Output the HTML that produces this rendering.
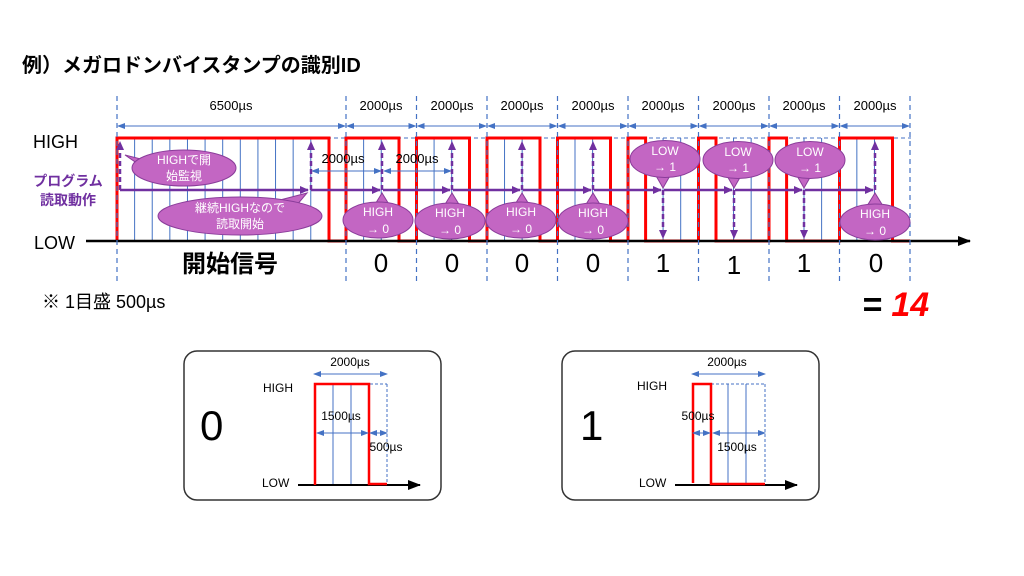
<!DOCTYPE html>
<html><head><meta charset="utf-8"><style>
body{margin:0;background:#fff}
svg{display:block;font-family:"Liberation Sans","Noto Sans CJK JP",sans-serif}
</style></head><body>
<svg id="s" width="1024" height="576" viewBox="0 0 1024 576" xmlns="http://www.w3.org/2000/svg">
<defs>
<marker id="ab" markerWidth="8" markerHeight="8" refX="7" refY="4" orient="auto-start-reverse" markerUnits="userSpaceOnUse"><path d="M0,1 L8,4 L0,7z" fill="#4472c4"/></marker>
<marker id="ap" markerWidth="10" markerHeight="10" refX="8" refY="5" orient="auto-start-reverse" markerUnits="userSpaceOnUse"><path d="M0,1 L9,5 L0,9z" fill="#7030a0"/></marker>
<marker id="ak" markerWidth="14" markerHeight="12" refX="12" refY="6" orient="auto" markerUnits="userSpaceOnUse"><path d="M0,1 L13,6 L0,11z" fill="#000"/></marker>
</defs>
<text x="22" y="72" font-size="20" font-weight="bold" fill="#000">例）メガロドンバイスタンプの識別ID</text>
<g id="grid"></g>
<line x1="117" y1="138" x2="911" y2="138" stroke="#4472c4" stroke-width="1" stroke-dasharray="4,3"/>
<path d="M117,241 V138 H329 V241 H346 V138 H399 V241 H416.5 V138 H469.5 V241 H487 V138 H540 V241 H557.5 V138 H610.5 V241 H628 V138 H645.6 V241 H698.5 V138 H716 V241 H769 V138 H786.6 V241 H839.5 V138 H892.5 V241 H910" fill="none" stroke="#ff0000" stroke-width="3"/>
<line x1="86" y1="241" x2="970" y2="241" stroke="#000" stroke-width="2.5" marker-end="url(#ak)"/>
<g id="dims"></g>
<g font-size="13" fill="#000" text-anchor="middle">
<text x="231" y="110">6500µs</text>
<text x="381" y="110">2000µs</text><text x="452" y="110">2000µs</text><text x="522" y="110">2000µs</text><text x="593" y="110">2000µs</text>
<text x="663" y="110">2000µs</text><text x="734" y="110">2000µs</text><text x="804" y="110">2000µs</text><text x="875" y="110">2000µs</text>
<text x="343" y="163">2000µs</text><text x="417" y="163">2000µs</text>
</g>
<line x1="312" y1="171" x2="381" y2="171" stroke="#4472c4" marker-start="url(#ab)" marker-end="url(#ab)"/>
<line x1="384" y1="171" x2="451" y2="171" stroke="#4472c4" marker-start="url(#ab)" marker-end="url(#ab)"/>
<g stroke="#7030a0" stroke-width="2.5" fill="none">
<line x1="120" y1="190" x2="308" y2="190" marker-end="url(#ap)"/>
<line x1="311" y1="190" x2="380" y2="190" marker-end="url(#ap)"/>
<line x1="383" y1="190" x2="450" y2="190" marker-end="url(#ap)"/>
<line x1="453" y1="190" x2="520" y2="190" marker-end="url(#ap)"/>
<line x1="523" y1="190" x2="591" y2="190" marker-end="url(#ap)"/>
<line x1="594" y1="190" x2="661" y2="190" marker-end="url(#ap)"/>
<line x1="664" y1="190" x2="732" y2="190" marker-end="url(#ap)"/>
<line x1="735" y1="190" x2="802" y2="190" marker-end="url(#ap)"/>
<line x1="805" y1="190" x2="873" y2="190" marker-end="url(#ap)"/>
<g stroke-dasharray="5,3">
<line x1="120" y1="190" x2="120" y2="142" marker-end="url(#ap)"/>
<line x1="311" y1="190" x2="311" y2="142" marker-end="url(#ap)"/>
<line x1="382" y1="190" x2="382" y2="142" marker-end="url(#ap)"/>
<line x1="452" y1="190" x2="452" y2="142" marker-end="url(#ap)"/>
<line x1="522" y1="190" x2="522" y2="142" marker-end="url(#ap)"/>
<line x1="593" y1="190" x2="593" y2="142" marker-end="url(#ap)"/>
<line x1="663" y1="190" x2="663" y2="238" marker-end="url(#ap)"/>
<line x1="734" y1="190" x2="734" y2="238" marker-end="url(#ap)"/>
<line x1="804" y1="190" x2="804" y2="238" marker-end="url(#ap)"/>
<line x1="875" y1="190" x2="875" y2="142" marker-end="url(#ap)"/>
</g>
</g>
<g fill="#c366c3" stroke="#8a3c9a" stroke-width="1">
<polygon points="125,155 145,160 150,172"/>
<ellipse cx="184" cy="168" rx="52" ry="18"/>
<polygon points="307,193 280,200 296,206"/>
<ellipse cx="240" cy="216" rx="82" ry="19"/>
<polygon points="382,193 374,206 390,206"/><ellipse cx="378" cy="220" rx="35" ry="18"/>
<polygon points="452,193 444,206 460,206"/><ellipse cx="450" cy="221" rx="35" ry="18"/>
<polygon points="522,193 514,206 530,206"/><ellipse cx="521" cy="220" rx="35" ry="18"/>
<polygon points="593,193 585,206 601,206"/><ellipse cx="593" cy="221" rx="35" ry="18"/>
<polygon points="875,193 867,206 883,206"/><ellipse cx="875" cy="222" rx="35" ry="18"/>
<polygon points="663,188 655,174 671,174"/><ellipse cx="665" cy="159" rx="35" ry="18.5"/>
<polygon points="734,188 726,174 742,174"/><ellipse cx="738" cy="160" rx="35" ry="18.5"/>
<polygon points="804,188 796,174 812,174"/><ellipse cx="810" cy="160" rx="35" ry="18.5"/>
</g>
<g fill="#fff" font-size="12" text-anchor="middle">
<text x="184" y="164">HIGHで開</text><text x="184" y="180">始監視</text>
<text x="240" y="212">継続HIGHなので</text><text x="240" y="228">読取開始</text>
<text x="378" y="216">HIGH</text><text x="378" y="233">→ 0</text>
<text x="450" y="217">HIGH</text><text x="450" y="234">→ 0</text>
<text x="521" y="216">HIGH</text><text x="521" y="233">→ 0</text>
<text x="593" y="217">HIGH</text><text x="593" y="234">→ 0</text>
<text x="875" y="218">HIGH</text><text x="875" y="235">→ 0</text>
<text x="665" y="155">LOW</text><text x="665" y="171">→ 1</text>
<text x="738" y="156">LOW</text><text x="738" y="172">→ 1</text>
<text x="810" y="156">LOW</text><text x="810" y="172">→ 1</text>
</g>
<text x="33" y="148" font-size="18">HIGH</text>
<text x="34" y="249" font-size="18">LOW</text>
<text x="68" y="186" font-size="14" font-weight="bold" fill="#7030a0" text-anchor="middle">プログラム</text>
<text x="68" y="205" font-size="14" font-weight="bold" fill="#7030a0" text-anchor="middle">読取動作</text>
<text x="230" y="272" font-size="24" font-weight="bold" text-anchor="middle">開始信号</text>
<g font-size="26" text-anchor="middle">
<text x="381" y="272">0</text><text x="452" y="272">0</text><text x="522" y="272">0</text><text x="593" y="272">0</text>
<text x="663" y="272">1</text><text x="734" y="274">1</text><text x="804" y="272">1</text><text x="876" y="272">0</text>
</g>
<text x="42" y="308" font-size="18">※ 1目盛 500µs</text>
<text x="862" y="316" font-size="34" font-weight="bold" font-style="italic">= <tspan fill="#ff0000">14</tspan></text>

<rect x="184" y="351" width="257" height="149" rx="13" fill="none" stroke="#333" stroke-width="1.5"/>
<text x="200" y="440" font-size="42">0</text>
<text x="263" y="392" font-size="12">HIGH</text>
<text x="262" y="487" font-size="12">LOW</text>
<line x1="315" y1="384" x2="387" y2="384" stroke="#4472c4" stroke-dasharray="3,2"/>
<line x1="387" y1="384" x2="387" y2="484" stroke="#4472c4" stroke-dasharray="3,2"/>
<line x1="333" y1="384" x2="333" y2="484" stroke="#4472c4"/>
<line x1="351" y1="384" x2="351" y2="484" stroke="#4472c4"/>
<line x1="298" y1="485" x2="420" y2="485" stroke="#000" stroke-width="2" marker-end="url(#ak)"/>
<path d="M315,485 V384 H369 V484 H387" fill="none" stroke="#ff0000" stroke-width="2.5"/>
<line x1="314" y1="374" x2="387" y2="374" stroke="#4472c4" marker-start="url(#ab)" marker-end="url(#ab)"/>
<line x1="317" y1="433" x2="368" y2="433" stroke="#4472c4" marker-start="url(#ab)" marker-end="url(#ab)"/>
<line x1="370" y1="433" x2="387" y2="433" stroke="#4472c4" marker-start="url(#ab)" marker-end="url(#ab)"/>
<g font-size="12" text-anchor="middle"><text x="350" y="366">2000µs</text><text x="341" y="420">1500µs</text><text x="386" y="451">500µs</text></g>

<rect x="562" y="351" width="257" height="149" rx="13" fill="none" stroke="#333" stroke-width="1.5"/>
<text x="580" y="440" font-size="42">1</text>
<text x="637" y="390" font-size="12">HIGH</text>
<text x="639" y="487" font-size="12">LOW</text>
<line x1="711" y1="384" x2="765" y2="384" stroke="#4472c4" stroke-dasharray="3,2"/>
<line x1="765" y1="384" x2="765" y2="484" stroke="#4472c4" stroke-dasharray="3,2"/>
<line x1="728" y1="384" x2="728" y2="484" stroke="#4472c4"/>
<line x1="746" y1="384" x2="746" y2="484" stroke="#4472c4"/>
<line x1="675" y1="485" x2="797" y2="485" stroke="#000" stroke-width="2" marker-end="url(#ak)"/>
<path d="M693,483 V384 H711 V484 H765" fill="none" stroke="#ff0000" stroke-width="2.5"/>
<line x1="692" y1="374" x2="765" y2="374" stroke="#4472c4" marker-start="url(#ab)" marker-end="url(#ab)"/>
<line x1="693" y1="433" x2="710" y2="433" stroke="#4472c4" marker-start="url(#ab)" marker-end="url(#ab)"/>
<line x1="713" y1="433" x2="765" y2="433" stroke="#4472c4" marker-start="url(#ab)" marker-end="url(#ab)"/>
<g font-size="12" text-anchor="middle"><text x="727" y="366">2000µs</text><text x="698" y="420">500µs</text><text x="737" y="451">1500µs</text></g>
</svg>
<script>
var NS="http://www.w3.org/2000/svg",g=document.getElementById("grid"),d=document.getElementById("dims");
function L(p,a){var e=document.createElementNS(NS,"line");for(var k in a)e.setAttribute(k,a[k]);p.appendChild(e);}
var u=(346-117)/13;
for(var k=1;k<45;k++){if(k==13||(k>13&&(k-13)%4==0))continue;var x=117+k*u;L(g,{x1:x,y1:138,x2:x,y2:241,stroke:"#4472c4","stroke-width":1});}
var bs=[117,346];for(var i=1;i<=8;i++)bs.push(346+i*70.5);
for(var i=0;i<bs.length;i++){L(d,{x1:bs[i],y1:96,x2:bs[i],y2:282,stroke:"#4472c4","stroke-width":1.2,"stroke-dasharray":"5,4"});}
for(var i=0;i<bs.length-1;i++){L(d,{x1:bs[i]+1,y1:126,x2:bs[i+1]-1,y2:126,stroke:"#4472c4","stroke-width":1,"marker-start":"url(#ab)","marker-end":"url(#ab)"});}
</script>
</body></html>
